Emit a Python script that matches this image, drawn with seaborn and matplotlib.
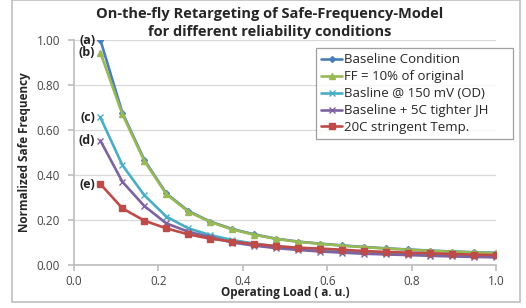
import matplotlib
matplotlib.use("Agg")
import matplotlib.pyplot as plt
import seaborn as sns
import numpy as np
import pandas as pd
from matplotlib.patches import Rectangle

load = [0.0625, 0.1146, 0.1667, 0.2188, 0.2708, 0.3229, 0.3750, 0.4271, 0.4792,
        0.5313, 0.5833, 0.6354, 0.6875, 0.7396, 0.7917, 0.8438, 0.8958, 0.9479, 1.0]
baseline = [1.00, 0.677, 0.467, 0.318, 0.240, 0.193, 0.160, 0.136, 0.117, 0.104,
            0.095, 0.087, 0.080, 0.074, 0.069, 0.064, 0.060, 0.057, 0.054]
ff10 = [0.944, 0.670, 0.462, 0.315, 0.237, 0.191, 0.158, 0.134, 0.116, 0.103,
        0.094, 0.086, 0.079, 0.073, 0.068, 0.063, 0.059, 0.056, 0.053]
od150 = [0.656, 0.444, 0.310, 0.215, 0.163, 0.133, 0.111, 0.095, 0.083, 0.074,
         0.067, 0.061, 0.056, 0.052, 0.049, 0.046, 0.043, 0.041, 0.039]
jh5 = [0.553, 0.370, 0.262, 0.185, 0.148, 0.124, 0.100, 0.086, 0.075, 0.067,
       0.060, 0.055, 0.050, 0.047, 0.044, 0.041, 0.038, 0.036, 0.034]
temp20 = [0.360, 0.252, 0.197, 0.163, 0.136, 0.117, 0.104, 0.093, 0.084, 0.077,
          0.073, 0.068, 0.062, 0.058, 0.055, 0.052, 0.049, 0.046, 0.044]
series_names = ["Baseline Condition", "FF = 10% of original", "Basline @ 150 mV (OD)",
                "Baseline + 5C tighter JH", "20C stringent Temp."]
tags = ["(a)", "(b)", "(c)", "(d)", "(e)"]
xticks = [0.0, 0.2, 0.4, 0.6, 0.8, 1.0]
yticks = [0.0, 0.2, 0.4, 0.6, 0.8, 1.0]

sns.set_theme(style="white")
plt.rcParams['font.family'] = ['Open Sans', 'DejaVu Sans']

fig = plt.figure(figsize=(5.26, 3.08), dpi=100)
fig.patch.set_facecolor("white")
ax = fig.add_axes([74/526, 43/308, 422/526, 225/308])

colors = ["#4A7EBB", "#98B954", "#4BACC6", "#7F62A0", "#BE4B48"]
markers = ["D", "^", "x", "x", "s"]
msizes = [3.0, 4.5, 4.0, 4.0, 4.5]
all_series = [baseline, ff10, od150, jh5, temp20]

for name, vals, c, m, ms in zip(series_names, all_series, colors, markers, msizes):
    df = pd.DataFrame({"x": load, "y": vals})
    sns.lineplot(data=df, x="x", y="y", ax=ax, color=c, marker=m, markersize=ms,
                 linewidth=1.9, label=name, markeredgecolor=c, markeredgewidth=1.0)

for t, vals in zip(tags, all_series):
    ax.text(load[0] - 0.012, vals[0], t, ha="right", va="center", fontsize=9,
            fontweight="bold", color="#222222")

ax.set_xlim(0, 1.0)
ax.set_ylim(0, 1.0)
ax.set_xticks(xticks)
ax.set_yticks(yticks)
ax.set_xticklabels([f"{v:.1f}" for v in xticks], fontsize=8.5, color="#444444")
ax.set_yticklabels([f"{v:.2f}" for v in yticks], fontsize=8.5, color="#444444")
ax.yaxis.grid(True, color="#D9D9D9", linewidth=0.9)
ax.xaxis.grid(False)
for s in ["top", "right"]:
    ax.spines[s].set_visible(False)
ax.spines["left"].set_color("#BFBFBF")
ax.spines["bottom"].set_color("#BFBFBF")
ax.tick_params(axis="both", which="both", length=4, color="#BFBFBF", direction="out",
               bottom=True, left=True)
ax.tick_params(axis="y", pad=6)
ax.tick_params(axis="x", pad=3)
ax.set_xlabel("Operating Load ( a. u.)", fontsize=8.5, fontweight="bold", labelpad=-1)
ax.set_ylabel("Normalized Safe Frequency", fontsize=8.5, fontweight="bold", labelpad=4)

leg = ax.legend(loc="upper left", bbox_to_anchor=(316/526, 1 - 137/308, 197/526, 89/308),
                bbox_transform=fig.transFigure, mode="expand", frameon=True, fancybox=False,
                fontsize=9.5, handlelength=1.6, handletextpad=0.1, borderpad=0.4,
                labelspacing=0.3, edgecolor="#888888", borderaxespad=0)
leg.get_frame().set_linewidth(0.9)

fig.text(270/526, 1 - 14/308, "On-the-fly Retargeting of Safe-Frequency-Model",
         ha="center", va="center", fontsize=10.5, fontweight="bold")
fig.text(270/526, 1 - 32/308, "for different reliability conditions",
         ha="center", va="center", fontsize=10.5, fontweight="bold")

fig.patches.append(Rectangle((12/526, 6/308), 508/526, 302/308, transform=fig.transFigure,
                             fill=False, edgecolor="#BFBFBF", linewidth=1.2))

fig.savefig("out.png", dpi=100)
